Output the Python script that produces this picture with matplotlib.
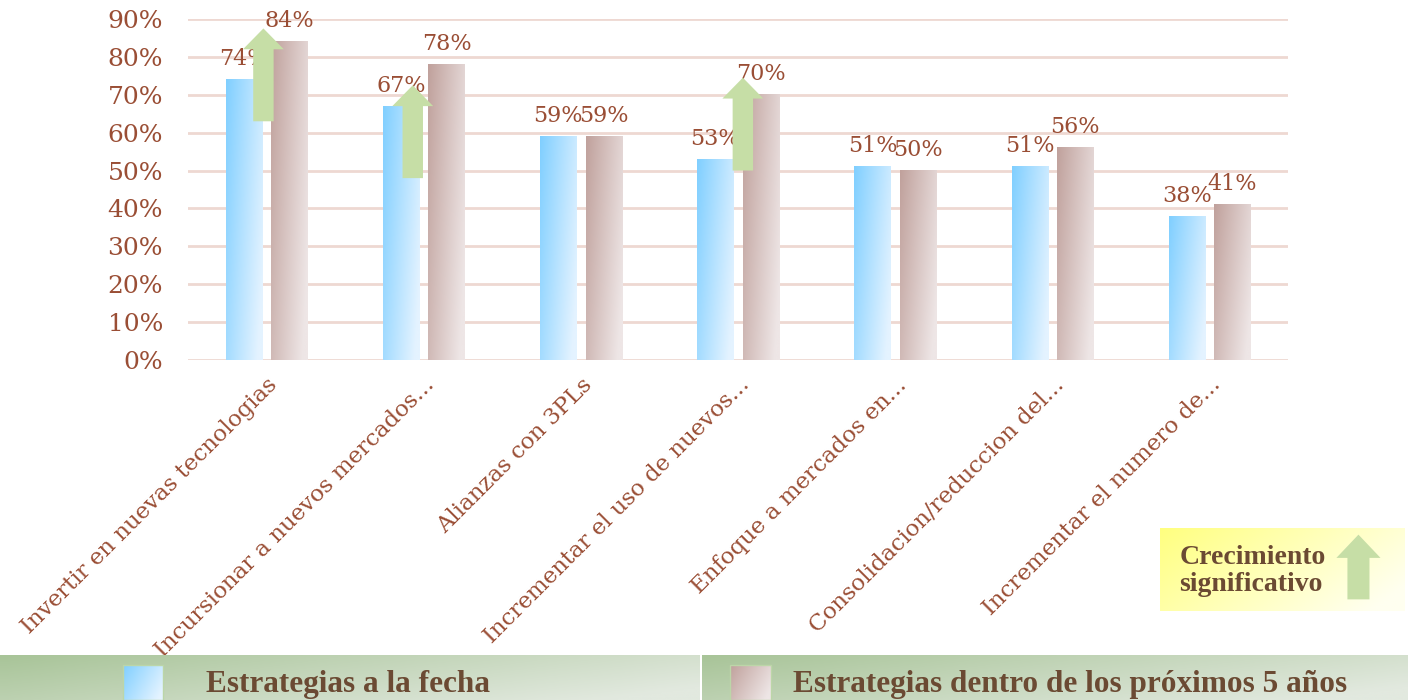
import matplotlib.pyplot as plt
import matplotlib.patches as mpatches
import numpy as np

categorias = ["Invertir en nuevas tecnologias", "Incursionar a nuevos mercados...",
              "Alianzas con 3PLs", "Incrementar el uso de nuevos...",
              "Enfoque a mercados en...", "Consolidacion/reduccion del...",
              "Incrementar el numero de..."]
a_la_fecha = [0.74, 0.67, 0.59, 0.53, 0.51, 0.51, 0.38]
proximos_5 = [0.84, 0.78, 0.59, 0.70, 0.50, 0.56, 0.41]
serie_nombres = ["Estrategias a la fecha", "Estrategias dentro de los próximos 5 años"]
yticks = [0, 0.1, 0.2, 0.3, 0.4, 0.5, 0.6, 0.7, 0.8, 0.9]

# flechas de crecimiento significativo: (grupo, corrimiento, desde, hasta)
flechas = [(0, -0.02, 0.63, 0.875), (1, -0.07, 0.48, 0.725), (3, 0.03, 0.50, 0.745)]

txt = "#9a4e35"
dark = "#6b4a33"
verde = "#c6dea6"
serif = ["DejaVu Serif"]

fig = plt.figure(figsize=(14.08, 7.0), dpi=100)
ax = fig.add_axes([0.1335, 0.4857, 0.7815, 0.4872])

def grad_img(c1, c2, n=64):
    c1 = np.array(plt.matplotlib.colors.to_rgb(c1))
    c2 = np.array(plt.matplotlib.colors.to_rgb(c2))
    xx, yy = np.meshgrid(np.linspace(0, 1, n), np.linspace(0, 1, n))
    t = np.clip(0.75 * xx + 0.35 * yy, 0, 1)[..., None]
    return c1 * (1 - t) + c2 * t

x = np.arange(len(categorias))
w = 0.23
off = 0.145
b1 = ax.bar(x - off, a_la_fecha, w, color="none", zorder=2)
b2 = ax.bar(x + off, proximos_5, w, color="none", zorder=2)
g1 = grad_img("#80cfff", "#e4f3ff")
g2 = grad_img("#c0a19c", "#eee6e6")
for bars, g in ((b1, g1), (b2, g2)):
    for r in bars:
        bx, bw, bh = r.get_x(), r.get_width(), r.get_height()
        ax.imshow(g, extent=[bx, bx + bw, 0, bh], aspect="auto", zorder=2, origin="upper")

for bars, vals in ((b1, a_la_fecha), (b2, proximos_5)):
    for r, v in zip(bars, vals):
        ax.text(r.get_x() + r.get_width() / 2, v + 0.025, f"{v:.0%}", ha="center", va="bottom",
                fontsize=16, color=txt, family=serif, zorder=3)

for g, dx, y0, y1 in flechas:
    ax.add_patch(mpatches.FancyArrow(x[g] + dx, y0, 0, y1 - y0, width=0.13, head_width=0.26,
                                     head_length=0.055, length_includes_head=True,
                                     color=verde, lw=0, zorder=4))

ax.set_xlim(-0.5, len(categorias) - 0.5)
ax.set_ylim(0, 0.9)
ax.set_yticks(yticks)
ax.set_yticklabels([f"{t:.0%}" for t in yticks], fontsize=18, color=txt, family=serif)
ax.set_xticks(x)
ax.set_xticklabels(categorias, rotation=45, ha="right", rotation_mode="anchor",
                   fontsize=16.5, color=txt, family=serif)
ax.tick_params(axis="y", length=0, pad=18)
ax.tick_params(axis="x", length=0, pad=10)
ax.grid(axis="y", color="#eed8d2", lw=2, zorder=0)
ax.set_axisbelow(True)
for s in ax.spines.values():
    s.set_visible(False)

# banda de leyenda
for i, (x0, wd) in enumerate(((0, 0.497), (0.4986, 0.5014))):
    lax = fig.add_axes([x0, 0, wd, 0.064])
    lax.imshow(grad_img("#a8c498", "#e2e9df"), extent=[0, 1, 0, 1], aspect="auto")
    lax.set_xlim(0, 1)
    lax.set_ylim(0, 1)
    lax.axis("off")
    sq_x = [0.176, 0.04][i]
    col = [g1, g2][i]
    lax.imshow(col, extent=[sq_x, sq_x + 0.057, 0, 0.78], aspect="auto", zorder=3)
    lax.add_patch(mpatches.Rectangle((sq_x, 0), 0.057, 0.78, fill=False, ec="#bcd6a8", lw=1, zorder=4))
    tx = [0.294, 0.129][i]
    lax.text(tx, 0.34, serie_nombres[i], fontsize=22.5, fontweight="bold", color=dark,
             family=["Liberation Serif"], va="center", ha="left")

# caja crecimiento significativo
cax = fig.add_axes([1160 / 1408, 1 - 611 / 700, 245 / 1408, 83 / 700])
cax.imshow(grad_img("#ffff80", "#fffff0"), extent=[0, 1, 0, 1], aspect="auto")
cax.set_xlim(0, 1)
cax.set_ylim(0, 1)
cax.axis("off")
cax.text(0.08, 0.48, "Crecimiento\nsignificativo", fontsize=20, fontweight="bold", color=dark,
         family=["Liberation Serif"], va="center", ha="left", linespacing=1.1)
cax.add_patch(mpatches.FancyArrow(0.81, 0.14, 0, 0.78, width=0.09, head_width=0.18,
                                  head_length=0.28, length_includes_head=True, color=verde, lw=0))

fig.savefig("out.png", dpi=100)
